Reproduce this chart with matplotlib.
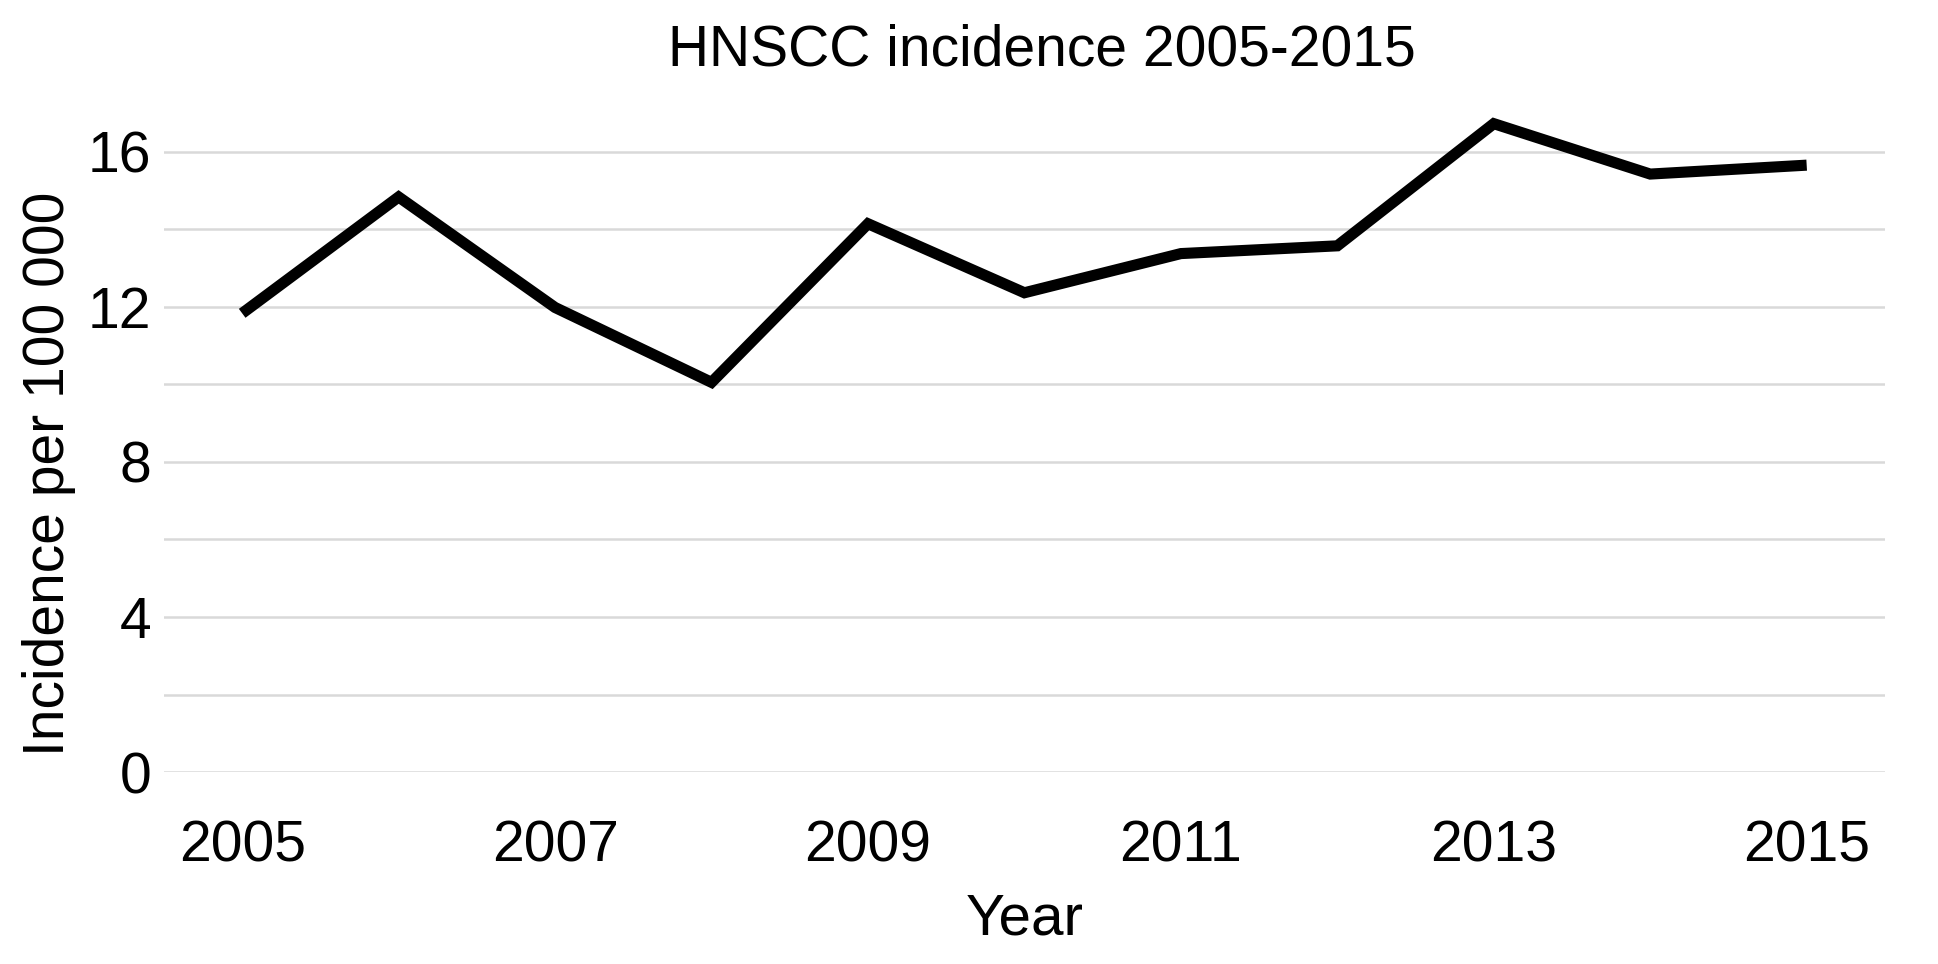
import matplotlib.pyplot as plt

years = [2005, 2006, 2007, 2008, 2009, 2010, 2011, 2012, 2013, 2014, 2015]
incidence = [11.83, 14.83, 11.98, 10.05, 14.14, 12.36, 13.37, 13.57, 16.72, 15.42, 15.65]
xtick_years = [2005, 2007, 2009, 2011, 2013, 2015]
ytick_major = [0, 4, 8, 12, 16]
ytick_minor = [2, 6, 10, 14]

plt.rcParams['font.family'] = ['Liberation Sans', 'DejaVu Sans']

fig = plt.figure(figsize=(19.38, 9.64), dpi=100)
ax = fig.add_axes([0.0846, 0.199, 0.888, 0.684])

ax.plot(years, incidence, color='black', lw=8, solid_joinstyle='miter',
        solid_capstyle='butt', zorder=3)

ax.set_xlim(2004.5, 2015.5)
ax.set_ylim(0, 17)
ax.set_xticks(xtick_years)
ax.set_yticks(ytick_major)
ax.set_yticks(ytick_minor, minor=True)
ax.grid(axis='y', which='both', color='#d9d9d9', lw=1.8, zorder=0)
ax.tick_params(axis='both', which='both', length=0, labelsize=41)
ax.tick_params(axis='x', pad=34)
ax.tick_params(axis='y', pad=9)
for s in ax.spines.values():
    s.set_visible(False)

ax.set_title('HNSCC incidence 2005-2015', fontsize=41, pad=34, x=0.51)
ax.set_xlabel('Year', fontsize=42, labelpad=14)
ax.set_ylabel('Incidence per 100 000', fontsize=41)
ax.yaxis.set_label_coords(-0.051, 0.453)

fig.savefig('out.png', dpi=100)
